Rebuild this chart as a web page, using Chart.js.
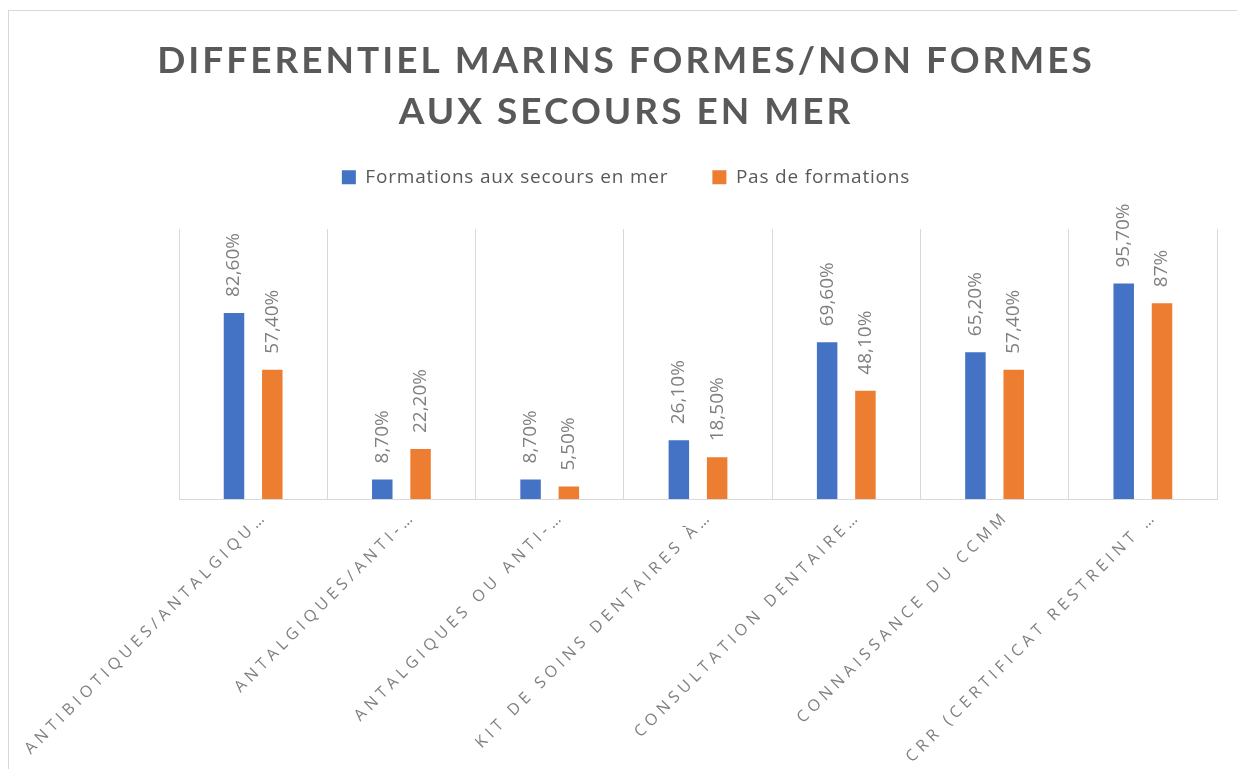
<!DOCTYPE html>
<html>
<head>
<meta charset="utf-8">
<script src="https://cdn.jsdelivr.net/npm/chart.js"></script>
<style>
  html, body { margin: 0; padding: 0; background: #fff; overflow: hidden; }
  #frame { position: absolute; left: 8px; top: 10px; width: 1300px; height: 800px; border: 1px solid #d9d9d9; }
  #wrap { position: absolute; left: 0; top: 0; width: 1237px; height: 769px; }
</style>
</head>
<body>
<div id="frame"></div>
<div id="wrap"><canvas id="chart"></canvas></div>
<script>
// données
const titleLines = ['DIFFERENTIEL MARINS FORMES/NON FORMES', 'AUX SECOURS EN MER'];
const categories = [
  'ANTIBIOTIQUES/ANTALGIQU…',
  'ANTALGIQUES/ANTI-…',
  'ANTALGIQUES OU ANTI-…',
  'KIT DE SOINS DENTAIRES À…',
  'CONSULTATION DENTAIRE…',
  'CONNAISSANCE DU CCMM',
  'CRR (CERTIFICAT RESTREINT …'
];
const seriesNames = ['Formations aux secours en mer', 'Pas de formations'];
const formes = [82.6, 8.7, 8.7, 26.1, 69.6, 65.2, 95.7];
const nonFormes = [57.4, 22.2, 5.5, 18.5, 48.1, 57.4, 87];

function formatPct(v) {
  return Number.isInteger(v) ? v + '%' : v.toFixed(2).replace('.', ',') + '%';
}

// espacement des lettres (titre, légende, étiquettes de l'axe)
const spacing = {
  id: 'spacing',
  afterInit(chart) {
    const ctx = chart.ctx;
    const wrap = (box, sp) => {
      if (!box) return;
      const draw = box.draw.bind(box);
      box.draw = (area) => {
        const prev = ctx.letterSpacing;
        ctx.letterSpacing = sp;
        draw(area);
        ctx.letterSpacing = prev;
      };
    };
    wrap(chart.titleBlock, '3px');
    wrap(chart.legend, '0.8px');
  },
  beforeLayout(chart) { chart.ctx.letterSpacing = '0.8px'; },
  afterLayout(chart) { chart.ctx.letterSpacing = '0px'; },
  beforeDraw(chart) { chart.ctx.letterSpacing = '4.6px'; },
  afterDraw(chart) { chart.ctx.letterSpacing = '0px'; }
};

// valeurs au-dessus des barres, texte vertical
const valueLabels = {
  id: 'valueLabels',
  afterDatasetsDraw(chart) {
    const ctx = chart.ctx;
    ctx.save();
    ctx.letterSpacing = '0px';
    ctx.font = "19px 'Open Sans', sans-serif";
    ctx.fillStyle = '#7f7f7f';
    ctx.textAlign = 'left';
    ctx.textBaseline = 'middle';
    chart.data.datasets.forEach((ds, i) => {
      chart.getDatasetMeta(i).data.forEach((bar, j) => {
        ctx.save();
        ctx.translate(bar.x, bar.y - 16);
        ctx.rotate(-Math.PI / 2);
        ctx.fillText(formatPct(ds.data[j]), 0, 0);
        ctx.restore();
      });
    });
    ctx.restore();
  }
};

new Chart(document.getElementById('chart'), {
  type: 'bar',
  data: {
    labels: categories,
    datasets: [
      { label: seriesNames[0], data: formes, backgroundColor: '#4472C4' },
      { label: seriesNames[1], data: nonFormes, backgroundColor: '#ED7D31' }
    ]
  },
  options: {
    responsive: true,
    maintainAspectRatio: false,
    animation: false,
    categoryPercentage: 0.5165,
    barPercentage: 0.535,
    layout: { padding: { left: 35, right: 20, top: 0, bottom: 0 } },
    plugins: {
      title: {
        display: true,
        text: titleLines,
        color: '#595959',
        font: { family: 'Lato, sans-serif', weight: 'bold', size: 37, lineHeight: 1.39 },
        padding: { top: 35, bottom: -14 }
      },
      legend: {
        position: 'top',
        labels: {
          boxWidth: 14,
          boxHeight: 14,
          padding: 44,
          color: '#595959',
          font: { family: "'Open Sans', sans-serif", size: 19 }
        }
      },
      tooltip: { enabled: false }
    },
    scales: {
      x: {
        position: 'bottom',
        grid: { color: '#d9d9d9', drawTicks: false, offset: true },
        border: { color: '#d9d9d9' },
        ticks: {
          color: '#7f7f7f',
          font: { family: "'Open Sans', sans-serif", size: 16 },
          minRotation: 45,
          maxRotation: 45,
          autoSkip: false,
          padding: 8,
          labelOffset: 12
        },
        afterFit(s) { s.height = 270; s.paddingLeft = 0; s.paddingRight = 0; }
      },
      x2: {
        axis: 'x',
        type: 'category',
        position: 'top',
        grid: { display: false },
        border: { display: false },
        ticks: { display: false },
        afterFit(s) { s.height = 32; }
      },
      y: {
        min: 0,
        max: 120,
        grid: { display: false },
        border: { display: false },
        ticks: { display: false },
        afterFit(s) { s.width = 144; }
      }
    }
  },
  plugins: [spacing, valueLabels]
});
</script>
</body>
</html>
